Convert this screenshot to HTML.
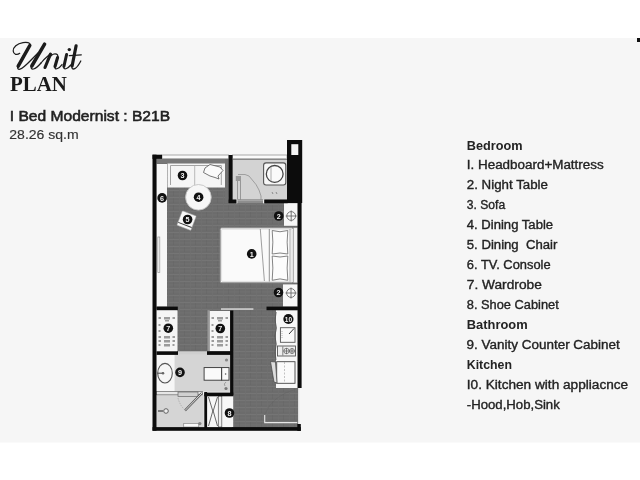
<!DOCTYPE html>
<html><head><meta charset="utf-8"><title>Unit Plan</title>
<style>
html,body{margin:0;padding:0;width:640px;height:480px;overflow:hidden;background:#fff}
svg{display:block;position:absolute;left:0;top:0;will-change:transform}
</style></head><body>
<svg width="640" height="480" viewBox="0 0 640 480">
<defs>
<pattern id="fl" patternUnits="userSpaceOnUse" width="11" height="7">
<rect width="11" height="7" fill="#6c6c6c"/>
<rect y="1.2" width="11" height="0.9" fill="#777"/>
<rect y="4.6" width="11" height="0.7" fill="#747474"/>
<rect x="3" width="0.8" height="7" fill="#707070"/>
<rect x="8.2" y="2" width="0.6" height="5" fill="#666"/>
</pattern>
<pattern id="tl" patternUnits="userSpaceOnUse" width="4" height="3">
<rect width="4" height="3" fill="#d6d6d6"/>
<rect y="1" width="4" height="0.7" fill="#cdcdcd"/>
</pattern>
</defs>
<rect x="0" y="0" width="640" height="480" fill="#ffffff"/>
<rect x="0" y="38" width="640" height="404.5" fill="#f6f6f6"/>
<rect x="637" y="38" width="3" height="4" fill="#111"/>

<!-- titles -->
<g font-family="Liberation Sans, sans-serif">
<g fill="none" stroke="#1c1c1c" stroke-linecap="round" stroke-linejoin="round">
<path d="M19.7 53.3 C17 55.5 13.5 54.5 13.2 51 C13 47.5 17 43.5 23 42.6 C27 42 30 42.6 30.3 44.7" stroke-width="1.25"/>
<path d="M30 44.8 C26 51 21 60 18 66 C17 68.5 18 69.6 20 69.2 C23.5 68.5 28 63 38 53" stroke-width="1.25"/>
<path d="M29.8 45.5 L18.2 66.2" stroke-width="3.5"/>
<path d="M44.8 43.8 C40 51 35 59 31.5 65.5 C30.5 68 31.5 69.5 33.5 69 C36 68.3 38 66.5 41 63" stroke-width="1.25"/>
<path d="M44.6 44.2 L31.8 66" stroke-width="3.5"/>
<path d="M41 63 C45 58 48 56 50.5 53.8" stroke-width="1.2"/>
<path d="M50.5 54.2 L45 67.5" stroke-width="3.1"/>
<path d="M47.5 60 C50 56 52.5 53.8 55 53.8 C57.5 53.8 58.3 55.3 57.6 57.5 L55 66 C54.5 68.5 55.5 69.5 57.5 68.5 C59 67.8 60.5 66.5 62 64.5" stroke-width="1.25"/>
<path d="M57.6 57.5 L55 66.5" stroke-width="3.1"/>
<path d="M66.6 54.5 L63.8 66.5 C63.3 68.5 64.5 69.4 66.5 68.5 C68 67.8 69.5 66.5 70.8 65" stroke-width="1.25"/>
<path d="M66.6 54.5 L63.9 66.3" stroke-width="3"/>
<path d="M76.2 45.5 L72 66.3 C71.5 68.6 72.8 69.6 74.8 68.6 C77 67.5 79 64.5 80.8 61" stroke-width="1.25"/>
<path d="M76.1 45.8 L72.1 66" stroke-width="3.2"/>
<path d="M69.3 55.6 C73 55.2 77 55 81.3 54.8" stroke-width="1.25"/>
</g>
<circle cx="69.3" cy="49.6" r="1.7" fill="#1c1c1c"/>
<text x="10" y="91.3" font-family="Liberation Serif" font-weight="bold" font-size="20" fill="#1a1a1a" textLength="57" lengthAdjust="spacingAndGlyphs">PLAN</text>
<text x="9.8" y="121.1" font-size="14.5" fill="#222" stroke="#222" stroke-width="0.55" textLength="160.3" lengthAdjust="spacingAndGlyphs">I Bed Modernist : B21B</text>
<text x="9.3" y="138.8" font-size="13.5" fill="#333" stroke="#333" stroke-width="0.15" textLength="69.4" lengthAdjust="spacingAndGlyphs">28.26 sq.m</text>

<!-- legend -->
<g fill="#232323" font-size="12.4">
<text x="466.8" y="149.5" font-weight="bold" textLength="55.7" lengthAdjust="spacingAndGlyphs">Bedroom</text>
<g stroke="#232323" stroke-width="0.35" font-size="12">
<text x="466.8" y="169.3" textLength="136.9" lengthAdjust="spacingAndGlyphs">I. Headboard+Mattress</text>
<text x="466.8" y="189.0" textLength="81.2" lengthAdjust="spacingAndGlyphs">2. Night Table</text>
<text x="466.8" y="209.2" textLength="38.4" lengthAdjust="spacingAndGlyphs">3. Sofa</text>
<text x="466.8" y="229.0" textLength="86.3" lengthAdjust="spacingAndGlyphs">4. Dining Table</text>
<text x="466.8" y="248.8" textLength="90.6" lengthAdjust="spacingAndGlyphs" xml:space="preserve">5. Dining  Chair</text>
<text x="466.8" y="269.0" textLength="83.8" lengthAdjust="spacingAndGlyphs">6. TV. Console</text>
<text x="466.8" y="288.9" textLength="75" lengthAdjust="spacingAndGlyphs">7. Wardrobe</text>
<text x="466.8" y="308.8" textLength="91.9" lengthAdjust="spacingAndGlyphs">8. Shoe Cabinet</text>
</g>
<text x="466.8" y="328.7" font-weight="bold" textLength="60.8" lengthAdjust="spacingAndGlyphs">Bathroom</text>
<text x="466.6" y="349.4" stroke="#232323" stroke-width="0.35" font-size="12" textLength="153.2" lengthAdjust="spacingAndGlyphs">9. Vanity Counter Cabinet</text>
<text x="466.8" y="369.2" font-weight="bold" textLength="45.2" lengthAdjust="spacingAndGlyphs">Kitchen</text>
<g stroke="#232323" stroke-width="0.35" font-size="12">
<text x="466.8" y="389.3" textLength="161.4" lengthAdjust="spacingAndGlyphs">I0. Kitchen with appliacnce</text>
<text x="466.8" y="408.8" textLength="93" lengthAdjust="spacingAndGlyphs">-Hood,Hob,Sink</text>
</g>
</g>

</g>
<!-- PLAN -->
<g id="plan">
<!-- bedroom floor -->
<rect x="156.5" y="159" width="141.5" height="150" fill="url(#fl)"/>
<rect x="177" y="306" width="56" height="46" fill="url(#fl)"/>
<rect x="232" y="306" width="66" height="122" fill="url(#fl)"/>

<!-- window top -->
<rect x="162" y="155" width="66.7" height="3.8" fill="#fbfbfb" stroke="#888" stroke-width="0.7"/>
<rect x="232.5" y="155" width="54.5" height="3.6" fill="#fbfbfb" stroke="#888" stroke-width="0.7"/>
<rect x="156.5" y="158.9" width="72.2" height="4.6" fill="#777"/>

<!-- TV console -->
<rect x="156.5" y="164" width="10.5" height="142.6" fill="#f7f7f7"/>
<rect x="157.8" y="237" width="2" height="35.5" fill="none" stroke="#999" stroke-width="0.7"/>
<!-- sofa -->
<rect x="167.5" y="163.5" width="57.5" height="24" fill="#f5f5f5"/>
<path d="M170.5 185 V165.5 H221.3 V185" fill="none" stroke="#9a9a9a" stroke-width="0.9"/>
<line x1="194.7" y1="165.5" x2="194.7" y2="186" stroke="#aaa" stroke-width="0.8"/>
<path d="M205 168 L210 164.5 L220 167 L223 170.5 L218 176 L219 179 L215 177.5 L210 176 L203.5 172.5 Z" fill="#fafafa" stroke="#555" stroke-width="0.8"/>
<rect x="225" y="159" width="3.7" height="44" fill="#707070"/>

<!-- balcony -->
<rect x="232.5" y="158.6" width="54.5" height="41" fill="#d3d3d3"/>
<line x1="232.5" y1="159.5" x2="287" y2="159.5" stroke="#888" stroke-width="1"/>
<rect x="263.6" y="162.9" width="22.2" height="22.1" rx="2.5" fill="#f7f7f7" stroke="#555" stroke-width="1.1"/>
<circle cx="274.7" cy="173.9" r="8.4" fill="#fafafa" stroke="#444" stroke-width="1.3"/>
<line x1="271" y1="167" x2="271" y2="181" stroke="#999" stroke-width="0.8"/>
<path d="M237.5 176 V200 M240.5 176 V200" stroke="#888" stroke-width="0.8" fill="none"/>
<rect x="235.8" y="176" width="5" height="5" fill="#999"/>
<path d="M238 174.5 L245 174.5 L249 176 L256 184.5 L259 190 L261 196 L261 200" fill="none" stroke="#888" stroke-width="0.7"/>
<rect x="236.5" y="199.6" width="27.8" height="3.6" fill="#8c8c8c"/>
<line x1="237.5" y1="200.6" x2="263" y2="200.6" stroke="#bbb" stroke-width="0.6"/>
<rect x="236" y="199.3" width="1.4" height="4" fill="#eee"/><rect x="263" y="199.3" width="1.4" height="4" fill="#eee"/>
<path d="M272 192 L273 194 M276 192 L277 194" stroke="#777" stroke-width="0.8"/>

<!-- dining table -->
<circle cx="198.4" cy="197.3" r="12.8" fill="#f7f7f7" stroke="#c4c4c4" stroke-width="0.9"/>
<!-- chair -->
<g transform="translate(186.6 220.6) rotate(21)">
<rect x="-7.5" y="-7.7" width="15" height="15.4" rx="0.8" fill="#f7f7f7" stroke="#9a9a9a" stroke-width="0.5"/>
<line x1="-7.2" y1="4.6" x2="7.2" y2="4.6" stroke="#3a3a3a" stroke-width="0.9"/>
</g>

<!-- bed -->
<rect x="220.2" y="227.8" width="73.2" height="55" rx="1.6" fill="#fafafa" stroke="#8a8a8a" stroke-width="1"/>
<rect x="221.6" y="229.2" width="70.4" height="52.2" rx="1" fill="none" stroke="#cfcfcf" stroke-width="0.6"/>
<line x1="260.3" y1="229" x2="264.4" y2="281" stroke="#777" stroke-width="0.7"/>
<line x1="269.3" y1="229" x2="269.3" y2="281.5" stroke="#777" stroke-width="0.8"/>
<line x1="290" y1="229" x2="290" y2="281.5" stroke="#888" stroke-width="0.7"/>
<path d="M272.2 230.5 Q280 233 287.8 230.5 Q286.5 242 287.8 254 Q280 252 272.2 254 Q273.5 242 272.2 230.5 Z" fill="#fcfcfc" stroke="#666" stroke-width="0.8"/>
<path d="M272.2 256 Q280 258 287.8 256 Q286.5 268 287.8 280.3 Q280 277.5 272.2 280.3 Q273.5 268 272.2 256 Z" fill="#fcfcfc" stroke="#666" stroke-width="0.8"/>
<rect x="293.4" y="227.8" width="4.3" height="55" fill="#f5f5f5" stroke="#999" stroke-width="0.5"/>
<!-- night tables -->
<rect x="284" y="203.2" width="13.7" height="22.6" fill="#f7f7f7"/>
<rect x="283" y="284.4" width="14.7" height="22.2" fill="#f7f7f7"/>
<g fill="none" stroke="#6a6a6a" stroke-width="0.9">
<circle cx="291.2" cy="216" r="4.4"/><path d="M291.2 210.5 V221.5 M285.7 216 H296.7"/>
<circle cx="291" cy="293" r="4.4"/><path d="M291 287.5 V298.5 M285.5 293 H296.5"/>
</g>

<!-- wardrobes -->
<rect x="156.3" y="310.2" width="21.2" height="41" fill="#f5f5f5"/>
<rect x="207.5" y="310.2" width="2.3" height="41" fill="#999"/>
<rect x="209.8" y="311" width="20.6" height="40" fill="#f5f5f5"/>
<rect x="221" y="308.3" width="32.4" height="1.5" fill="#d8d8d8"/>
<g fill="#9c9c9c">
<rect x="158.5" y="317" width="2.5" height="2"/><rect x="164" y="317" width="6" height="2.5"/><rect x="172.5" y="317" width="2.5" height="2"/>
<rect x="165" y="320" width="4" height="1.5"/>
<rect x="158.5" y="324" width="2" height="2"/><rect x="158.5" y="330" width="2" height="2"/>
<rect x="158.5" y="336" width="2.5" height="2"/><rect x="164" y="336" width="6" height="2.5"/><rect x="172.5" y="336" width="2.5" height="2"/>
<rect x="158.5" y="340" width="2.5" height="2"/><rect x="164" y="340" width="6" height="2.5"/><rect x="172.5" y="340" width="2.5" height="2"/>
<rect x="158.5" y="344" width="2" height="2"/><rect x="164" y="344" width="6" height="2.5"/><rect x="172.5" y="344" width="2" height="2"/>
<rect x="211.5" y="317" width="2.5" height="2"/><rect x="217" y="317" width="6" height="2.5"/><rect x="225.5" y="317" width="2.5" height="2"/>
<rect x="218" y="320" width="4" height="1.5"/>
<rect x="211.5" y="324" width="2" height="2"/><rect x="211.5" y="330" width="2" height="2"/>
<rect x="211.5" y="336" width="2.5" height="2"/><rect x="217" y="336" width="6" height="2.5"/><rect x="225.5" y="336" width="2.5" height="2"/>
<rect x="211.5" y="340" width="2.5" height="2"/><rect x="217" y="340" width="6" height="2.5"/><rect x="225.5" y="340" width="2.5" height="2"/>
<rect x="211.5" y="344" width="2" height="2"/><rect x="217" y="344" width="6" height="2.5"/><rect x="225.5" y="344" width="2" height="2"/>
</g>
<rect x="178" y="351.3" width="29" height="3.6" fill="#cfcfcf"/>

<!-- bathroom -->
<rect x="156.3" y="354.8" width="74" height="37" fill="#d5d5d5"/>
<rect x="156.3" y="354.8" width="18.3" height="36.7" fill="#f6f6f6"/>
<ellipse cx="165" cy="373.2" rx="7.3" ry="9.8" fill="none" stroke="#555" stroke-width="1.1"/>
<path d="M157.5 373.2 H163.5" stroke="#444" stroke-width="1"/>
<circle cx="163" cy="373.2" r="1.3" fill="#666"/>
<rect x="204.1" y="367.6" width="17.6" height="12.6" fill="#fafafa" stroke="#333" stroke-width="0.9"/>
<rect x="221.7" y="367.6" width="7.3" height="12.6" fill="#fafafa" stroke="#333" stroke-width="0.9"/>
<circle cx="225.6" cy="374" r="0.8" fill="#555"/>
<circle cx="226.5" cy="360" r="1.6" fill="#888"/>
<circle cx="226" cy="388.5" r="1.6" fill="#777"/>
<path d="M226 382 Q223 384 225 386" fill="none" stroke="#777" stroke-width="0.6"/>
<!-- shower -->
<rect x="156.3" y="395" width="47.5" height="32" fill="#d5d5d5"/>
<rect x="156.3" y="391.5" width="46" height="3.3" fill="#e6e6e6" stroke="#666" stroke-width="0.7"/>
<rect x="178" y="392" width="20" height="4.5" fill="#d0d0d0" stroke="#666" stroke-width="0.7"/>
<line x1="202" y1="393" x2="185" y2="410.5" stroke="#555" stroke-width="2.4"/>
<line x1="202" y1="393" x2="185" y2="410.5" stroke="#eee" stroke-width="0.9"/>
<path d="M178 398 Q180 406 186 411" fill="none" stroke="#999" stroke-width="0.6" stroke-dasharray="1.5 1"/>
<path d="M158 411 H163" stroke="#444" stroke-width="1.2"/>
<circle cx="166" cy="411" r="2.3" fill="#eee" stroke="#444" stroke-width="0.8"/>
<rect x="183.8" y="423.5" width="15" height="3.5" fill="#fafafa" stroke="#666" stroke-width="0.5"/>
<circle cx="199.8" cy="423.6" r="1.7" fill="#888"/>
<!-- shoe cabinet -->
<rect x="207" y="395" width="26.2" height="32.2" fill="#f7f7f7"/>
<rect x="218.3" y="396" width="3.5" height="31" fill="#f0f0f0" stroke="#555" stroke-width="0.7"/>
<path d="M208.5 397 L212.8 411 L208.5 426 M217.5 397 L213.2 411 L217.5 426" stroke="#444" stroke-width="0.8" fill="none"/>

<!-- kitchen counter -->
<rect x="276" y="310.2" width="21.8" height="77.8" fill="#f7f7f7"/>
<path d="M276.2 312 L275 320 L276.5 328 L274.8 336 L276.3 344 L275 352 L276 360" fill="none" stroke="#555" stroke-width="0.8"/>
<rect x="280.4" y="327.7" width="14.6" height="14.6" fill="#fafafa" stroke="#555" stroke-width="0.9"/>
<path d="M289 334 L294 328.5" stroke="#333" stroke-width="1"/>
<path d="M282 331 V338" stroke="#888" stroke-width="0.6" stroke-dasharray="1 1"/>
<rect x="277.5" y="346" width="18" height="10" fill="#eee" stroke="#555" stroke-width="0.9"/>
<g fill="none" stroke="#555" stroke-width="0.7"><path d="M282.8 346.5 V355.5"/><circle cx="286.5" cy="351" r="2.7"/><circle cx="292" cy="351" r="2.5"/><path d="M283.5 351 H295 M286.5 348 V354 M292 348.3 V353.7"/></g>
<rect x="276.7" y="361.7" width="18.3" height="21.6" fill="#fafafa" stroke="#444" stroke-width="0.9"/>
<line x1="284.5" y1="362" x2="284.5" y2="383" stroke="#aaa" stroke-width="0.7" stroke-dasharray="2 1.5"/>
<path d="M270.5 361.5 L275.5 362 L277 383 L274 382 Z" fill="#ddd" stroke="#444" stroke-width="0.7"/>
<!-- entry door -->
<path d="M264.7 415 V422.6 H297.3" fill="none" stroke="#e6e6e6" stroke-width="1.1"/>
<path d="M298.7 388 V424" fill="none" stroke="#dcdcdc" stroke-width="1"/>
<path d="M265 414 Q272 396 296 389" fill="none" stroke="#5e5e5e" stroke-width="0.5" opacity="0.7"/>

<!-- walls -->
<g fill="#0c0c0c">
<rect x="152.5" y="154.7" width="4" height="276"/>
<rect x="152.5" y="154.7" width="9.5" height="4.2"/>
<rect x="152.5" y="427.1" width="148.3" height="3.7"/>
<rect x="287" y="140" width="15.2" height="63"/>
<rect x="297.6" y="200" width="4" height="188"/>
<rect x="297.3" y="424" width="3.5" height="7"/>
<rect x="228.7" y="155" width="3.8" height="48"/>
<rect x="228.7" y="199.6" width="7.8" height="3.6"/>
<rect x="264.3" y="199.6" width="23.4" height="3.6"/>
<rect x="156.5" y="306.6" width="21.3" height="3.6"/>
<rect x="266.5" y="306.6" width="31.4" height="3.6"/>
<rect x="230.1" y="310.5" width="3.2" height="85"/>
<rect x="156.5" y="351.3" width="21.5" height="3.6"/>
<rect x="207" y="351.3" width="26" height="3.6"/>
<rect x="204.3" y="392.6" width="29" height="3.7"/>
<rect x="204.3" y="392" width="2.8" height="36"/>
</g>
<rect x="291.3" y="144.2" width="7" height="10.8" fill="#f5f5f5"/>

<!-- badges -->
<g fill="#111">
<circle cx="251.7" cy="253.9" r="4.8"/>
<circle cx="278.7" cy="216" r="4.8"/>
<circle cx="278.5" cy="292.5" r="4.8"/>
<circle cx="182.5" cy="175.5" r="4.8"/>
<circle cx="198.6" cy="197.2" r="4.8"/>
<circle cx="187.6" cy="219.5" r="4.8"/>
<circle cx="162.1" cy="197.9" r="4.8"/>
<circle cx="168.3" cy="328.2" r="4.8"/>
<circle cx="220.3" cy="328.5" r="4.8"/>
<circle cx="229.5" cy="413" r="4.8"/>
<circle cx="180" cy="372.4" r="4.8"/>
<circle cx="288.4" cy="319" r="5.1"/>
</g>
<g fill="#f4f4f4" font-family="Liberation Sans, sans-serif" font-weight="bold" font-size="7.2" text-anchor="middle">
<text x="251.7" y="256.5">1</text>
<text x="278.7" y="218.6">2</text>
<text x="278.5" y="295.1">2</text>
<text x="182.5" y="178.1">3</text>
<text x="198.6" y="199.8">4</text>
<text x="187.6" y="222.1">5</text>
<text x="162.1" y="200.5">6</text>
<text x="168.3" y="330.8">7</text>
<text x="220.3" y="331.1">7</text>
<text x="229.5" y="415.6">8</text>
<text x="180" y="375">9</text>
<text x="288.4" y="321.6" font-size="6.5">10</text>
</g>
</g>
</svg>
</body></html>
